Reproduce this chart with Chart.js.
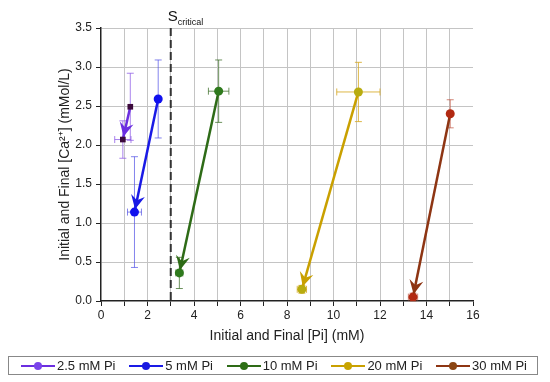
<!DOCTYPE html>
<html>
<head>
<meta charset="utf-8">
<script src="https://cdn.jsdelivr.net/npm/chart.js@4.4.0/dist/chart.umd.min.js"></script>
<style>
  body { margin: 0; background: #fff; font-family: "Liberation Sans", Arial, sans-serif; }
  #wrap { position: relative; width: 550px; height: 382px; }
  #legend {
    position: absolute; left: 8px; top: 356px; width: 530px; height: 19px;
    border: 1px solid #888; box-sizing: border-box; padding: 0 10px 0 12px;
    display: flex; align-items: center; justify-content: space-between;
    font-size: 13px; color: #222;
  }
  .item { display: flex; align-items: center; }
  .sym { position: relative; width: 34px; height: 10px; margin-right: 2px; }
  .sym .ln { position: absolute; left: 0; right: 0; top: 4px; height: 2px; }
  .sym .dot { position: absolute; left: 13px; top: 1px; width: 8px; height: 8px; border-radius: 50%; }
</style>
</head>
<body>
<div id="wrap">
  <canvas id="chart" width="550" height="382"></canvas>
  <div id="legend"></div>
</div>
<script>
// series
const seriesNames = ['2.5 mM Pi', '5 mM Pi', '10 mM Pi', '20 mM Pi', '30 mM Pi'];
const lineColors = ['#6b2ee0', '#1a1ae6', '#2e6b17', '#c9a000', '#8e3513'];
const markerColors = ['#3c0a3c', '#1010ee', '#2f7a1d', '#b8ac10', '#b22a12'];
const legendColors = ['#7a44ea', '#1a1ae0', '#2c6e14', '#c8a400', '#8b4513'];
const errColors = ['rgba(140,90,230,0.75)', 'rgba(80,80,230,0.7)', 'rgba(60,110,40,0.75)', 'rgba(215,170,40,0.85)', 'rgba(190,80,60,0.7)'];

// initial and final [Pi] / [Ca2+]
const initX = [1.26, 2.46, 5.06, 11.07, 15.02];
const initY = [2.49, 2.59, 2.69, 2.68, 2.40];
const initXErr = [0, 0, 0.44, 0.93, 0];
const initYErr = [0.43, 0.5, 0.4, 0.38, 0.18];
const finalX = [0.94, 1.44, 3.37, 8.64, 13.42];
const finalY = [2.07, 1.14, 0.36, 0.15, 0.05];
const finalXErr = [0.35, 0.3, 0.15, 0.2, 0.2];
const finalYErr = [0.24, 0.71, 0.2, 0.05, 0.05];

const sCritical = 3;

const datasets = seriesNames.map((name, i) => ({
    label: name,
    data: [{x: initX[i], y: initY[i]}, {x: finalX[i], y: finalY[i]}],
    showLine: true,
    borderColor: lineColors[i],
    borderWidth: 2.5,
    pointStyle: i === 0 ? 'rect' : 'circle',
    pointRadius: i === 0 ? 4 : 4.5,
    pointBackgroundColor: markerColors[i],
    pointBorderColor: markerColors[i],
    pointBorderWidth: 0
}));

// error bars behind the lines
const errorBars = {
    id: 'errorBars',
    beforeDatasetsDraw(chart) {
        const {ctx, scales: {x, y}} = chart;
        ctx.save();
        ctx.lineWidth = 1;
        const cap = 3.5;
        function bar(px, py, ex, ey, color) {
            ctx.strokeStyle = color;
            const cx = x.getPixelForValue(px), cy = y.getPixelForValue(py);
            ctx.beginPath();
            if (ey > 0) {
                const t = y.getPixelForValue(py + ey), b = y.getPixelForValue(py - ey);
                ctx.moveTo(cx, t); ctx.lineTo(cx, b);
                ctx.moveTo(cx - cap, t); ctx.lineTo(cx + cap, t);
                ctx.moveTo(cx - cap, b); ctx.lineTo(cx + cap, b);
            }
            if (ex > 0) {
                const l = x.getPixelForValue(px - ex), r = x.getPixelForValue(px + ex);
                ctx.moveTo(l, cy); ctx.lineTo(r, cy);
                ctx.moveTo(l, cy - cap); ctx.lineTo(l, cy + cap);
                ctx.moveTo(r, cy - cap); ctx.lineTo(r, cy + cap);
            }
            ctx.stroke();
        }
        for (let i = 0; i < seriesNames.length; i++) {
            bar(initX[i], initY[i], initXErr[i], initYErr[i], errColors[i]);
            bar(finalX[i], finalY[i], finalXErr[i], finalYErr[i], errColors[i]);
        }
        // S critical dashed line
        const sx = x.getPixelForValue(sCritical);
        ctx.strokeStyle = '#333';
        ctx.lineWidth = 2;
        ctx.setLineDash([8, 4]);
        ctx.beginPath();
        ctx.moveTo(sx, chart.chartArea.top);
        ctx.lineTo(sx, chart.chartArea.bottom);
        ctx.stroke();
        ctx.setLineDash([]);
        ctx.fillStyle = '#111';
        ctx.textBaseline = 'alphabetic';
        ctx.font = '15px "Liberation Sans", Arial, sans-serif';
        ctx.fillText('S', sx - 3, 21);
        ctx.font = '9px "Liberation Sans", Arial, sans-serif';
        ctx.fillText('critical', sx + 7, 25);
        ctx.restore();
    },
    afterDatasetsDraw(chart) {
        const {ctx, scales: {x, y}} = chart;
        ctx.save();
        for (let i = 0; i < seriesNames.length; i++) {
            const x0 = x.getPixelForValue(initX[i]), y0 = y.getPixelForValue(initY[i]);
            const x1 = x.getPixelForValue(finalX[i]), y1 = y.getPixelForValue(finalY[i]);
            const a = Math.atan2(y1 - y0, x1 - x0);
            const tx = x1 - Math.cos(a) * 3, ty = y1 - Math.sin(a) * 3;
            const len = 14, half = 7, notch = 9;
            const bx = tx - Math.cos(a) * len, by = ty - Math.sin(a) * len;
            const nx = -Math.sin(a), ny = Math.cos(a);
            ctx.fillStyle = lineColors[i];
            ctx.beginPath();
            ctx.moveTo(tx, ty);
            ctx.lineTo(bx + nx * half, by + ny * half);
            ctx.lineTo(tx - Math.cos(a) * notch, ty - Math.sin(a) * notch);
            ctx.lineTo(bx - nx * half, by - ny * half);
            ctx.closePath();
            ctx.fill();
        }
        ctx.restore();
    }
};

const font = {family: '"Liberation Sans", Arial, sans-serif'};

new Chart(document.getElementById('chart'), {
    type: 'scatter',
    data: {datasets: datasets},
    options: {
        responsive: false,
        animation: false,
        layout: {padding: {top: 28, right: 77, left: 0, bottom: 0}},
        plugins: {legend: {display: false}, tooltip: {enabled: false}},
        scales: {
            x: {
                type: 'linear', min: 0, max: 16,
                afterFit(s) { s.height = 81; },
                ticks: {
                    stepSize: 1, color: '#222', padding: 2,
                    font: {...font, size: 12},
                    callback: v => (v % 2 === 0 ? String(v) : '')
                },
                grid: {
                    color: c => (c.tick && (c.tick.value === 0 || c.tick.value === 16) ? 'rgba(0,0,0,0)' : '#c4c4c4'),
                    lineWidth: 1, tickColor: '#222', tickLength: 5
                },
                border: {color: '#222', width: 1.5},
                title: {
                    display: true, text: 'Initial and Final [Pi] (mM)', color: '#222',
                    font: {...font, size: 14}, padding: {top: 0, bottom: 37}
                }
            },
            y: {
                min: 0, max: 3.5,
                afterFit(s) { s.width = 101; },
                ticks: {
                    stepSize: 0.5, color: '#222', padding: 4,
                    font: {...font, size: 12},
                    callback: v => v.toFixed(1)
                },
                grid: {
                    color: c => (c.tick && c.tick.value === 0 ? 'rgba(0,0,0,0)' : '#c4c4c4'),
                    lineWidth: 1, tickColor: '#222', tickLength: 5
                },
                border: {color: '#222', width: 1.5},
                title: {
                    display: true, text: 'Initial and Final [Ca²⁺] (mMol/L)', color: '#222',
                    font: {...font, size: 14}, padding: {top: 57, bottom: 0}
                }
            }
        }
    },
    plugins: [errorBars]
});

// legend box
const legend = document.getElementById('legend');
seriesNames.forEach((name, i) => {
    const item = document.createElement('div');
    item.className = 'item';
    item.innerHTML = '<span class="sym"><span class="ln" style="background:' + lineColors[i] +
        '"></span><span class="dot" style="background:' + legendColors[i] + '"></span></span><span>' + name + '</span>';
    legend.appendChild(item);
});
</script>
</body>
</html>
